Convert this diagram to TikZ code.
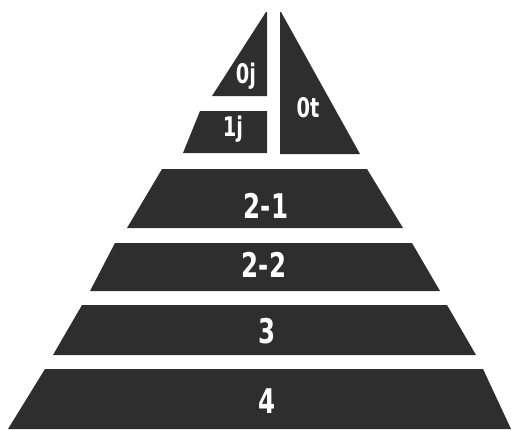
\documentclass[tikz,border=0pt]{standalone}
\usepackage{fontspec}
\setmainfont{DejaVu Sans Condensed}
\usepackage{xcolor}
\usepackage{tikz}

\tikzset{
  layer/.style={fill=black!82, draw=none},
  biglbl/.style={text=white, xscale=0.8, font=\fontsize{34}{36}\selectfont\bfseries},
  smalllbl/.style={text=white, xscale=0.8, font=\fontsize{27}{29}\selectfont\bfseries}
}

\begin{document}
\begin{tikzpicture}[x=1pt, y=-1pt]
\useasboundingbox (0,0) rectangle (511,429);

% Top pieces
\fill[layer] (266,12) -- (267,12) -- (267,96) -- (212,96) -- cycle;
\fill[layer] (280,12) -- (281,12) -- (360,154) -- (280,154) -- cycle;
\fill[layer] (200,111) -- (267,111) -- (267,153) -- (183,153) -- cycle;

% Layers
\fill[layer] (162,169) -- (367,169) -- (403,228) -- (127,228) -- cycle;
\fill[layer] (115,243) -- (412,243) -- (440,291) -- (90,291) -- cycle;
\fill[layer] (82,305) -- (447,305) -- (476,355) -- (53,355) -- cycle;
\fill[layer] (45,369) -- (483,369) -- (511,429) -- (8,429) -- cycle;

% Labels
\node[smalllbl] (l0j) at (246,76) {0j};
\node[smalllbl] (l1j) at (233,129) {1j};
\node[smalllbl] (l0t) at (308,108) {0t};
\node[biglbl] (l21) at (266,206) {2-1};
\node[biglbl] (l22) at (264,265) {2-2};
\node[biglbl] (l3) at (267,331) {3};
\node[biglbl] (l4) at (267,401) {4};

\end{tikzpicture}
\end{document}
